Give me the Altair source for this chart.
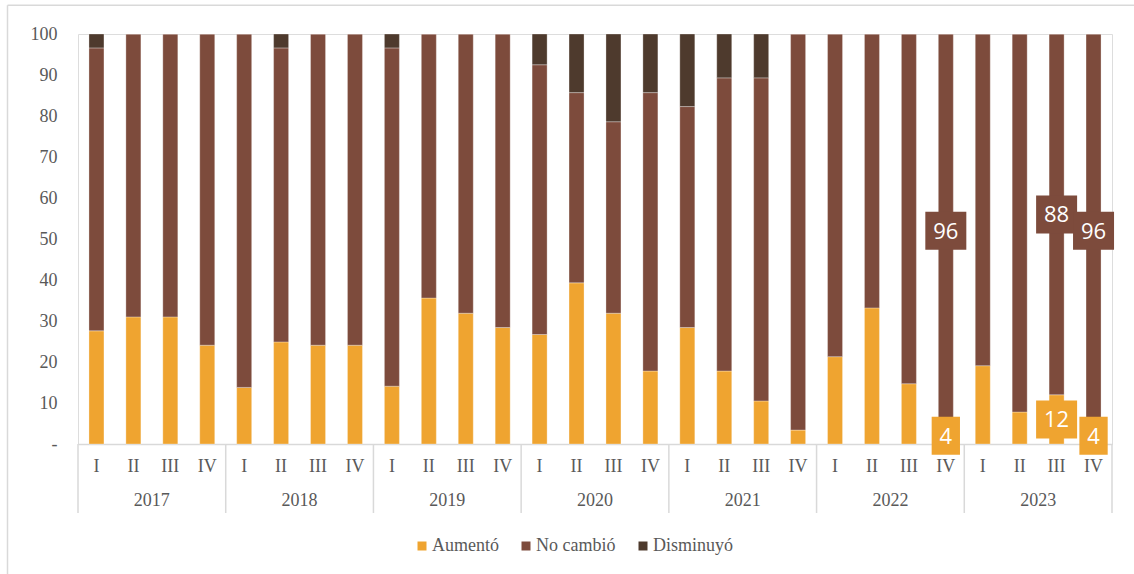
import altair as alt
import pandas as pd

years = [2017, 2018, 2019, 2020, 2021, 2022, 2023]
quarters = ["I", "II", "III", "IV"]
series = ["Aumentó", "No cambió", "Disminuyó"]

aumento = [27.6, 31.0, 31.0, 24.1,
           13.8, 24.9, 24.1, 24.1,
           14.1, 35.6, 31.9, 28.4,
           26.7, 39.3, 31.9, 17.8,
           28.4, 17.8, 10.5, 3.4,
           21.3, 33.2, 14.7, 4.0,
           19.1, 7.8, 12.0, 4.0]
disminuyo = [3.4, 0, 0, 0,
             0, 3.4, 0, 0,
             3.4, 0, 0, 0,
             7.5, 14.3, 21.4, 14.3,
             17.7, 10.7, 10.7, 0,
             0, 0, 0, 0,
             0, 0, 0, 0]
no_cambio = [round(100 - a - d, 1) for a, d in zip(aumento, disminuyo)]

# labelled points: (year-quarter, series, value)
label_keys = ["2022-IV", "2022-IV", "2023-III", "2023-III", "2023-IV", "2023-IV"]
label_series = ["Aumentó", "No cambió", "Aumentó", "No cambió", "Aumentó", "No cambió"]
label_values = [4, 96, 12, 88, 4, 96]

colors = ["#EFA430", "#7D4B3C", "#4E3A2D"]
grey_txt = "#595959"
line_col = "#D9D9D9"
serif = "Liberation Serif"

keys = [f"{y}-{q}" for y in years for q in quarters]

rows = []
for i, k in enumerate(keys):
    for j, (s, v) in enumerate(zip(series, [aumento[i], no_cambio[i], disminuyo[i]])):
        rows.append({"key": k, "serie": s, "valor": v, "orden": j})
df = pd.DataFrame(rows)

lab = pd.DataFrame({"key": label_keys, "serie": label_series, "valor": label_values})
lab["txt"] = lab["valor"].astype(int).astype(str)
base = {k: aumento[keys.index(k)] for k in keys}
lab["pos"] = [v / 2 if s == "Aumentó" else base[k] + v / 2
              for k, s, v in zip(lab["key"], lab["serie"], lab["valor"])]
lab["wide"] = lab["txt"].str.len() > 1

xscale = alt.Scale(domain=keys, paddingInner=0, paddingOuter=0)
yscale = alt.Scale(domain=[0, 100])
cscale = alt.Scale(domain=series, range=colors)

bars = alt.Chart(df).mark_bar(width=15, stroke="#ffffff", strokeWidth=0.6, strokeOpacity=0.5).encode(
    x=alt.X("key:N", scale=xscale, sort=keys, title=None,
            axis=alt.Axis(labelExpr="split(datum.value, '-')[1]", labelAngle=0,
                          ticks=False, labelFont=serif, labelFontSize=18,
                          labelColor=grey_txt, labelBaseline="middle", labelPadding=22,
                          domainColor=line_col, domainWidth=1.5)),
    y=alt.Y("valor:Q", stack="zero", scale=yscale, title=None,
            axis=alt.Axis(values=list(range(0, 101, 10)), grid=False, ticks=False, domain=False,
                          labelExpr="datum.value == 0 ? '-' : datum.label",
                          labelFont=serif, labelFontSize=18, labelColor=grey_txt,
                          labelPadding=21)),
    color=alt.Color("serie:N", scale=cscale, sort=series, title=None,
                    legend=alt.Legend(orient="none", legendX=335, legendY=503,
                                      direction="horizontal", symbolType="square",
                                      symbolSize=81, symbolStrokeWidth=0,
                                      labelFont=serif, labelFontSize=18, labelColor=grey_txt,
                                      labelOffset=1, columnPadding=18, padding=0)),
    order=alt.Order("orden:Q"),
)

first_keys = pd.DataFrame({"key": [f"{y}-I" for y in years]})
sep_left = alt.Chart(first_keys).mark_rule(color=line_col, strokeWidth=1.5).encode(
    x=alt.X("key:N", scale=xscale, bandPosition=0),
    y=alt.value(410), y2=alt.value(479),
)
last_key = pd.DataFrame({"key": [keys[-1]]})
sep_right = alt.Chart(last_key).mark_rule(color=line_col, strokeWidth=1.5).encode(
    x=alt.X("key:N", scale=xscale, bandPosition=1),
    y=alt.value(410), y2=alt.value(479),
)

year_df = pd.DataFrame({"key": [f"{y}-II" for y in years], "year": [str(y) for y in years]})
year_txt = alt.Chart(year_df).mark_text(font=serif, fontSize=18, color=grey_txt, baseline="middle").encode(
    x=alt.X("key:N", scale=xscale, bandPosition=1),
    y=alt.value(467),
    text="year:N",
)

fscale = alt.Scale(domain=series, range=colors)
wide_box = alt.Chart(lab[lab["wide"]]).mark_point(
    shape="M-1,-0.927L1,-0.927L1,0.927L-1,0.927Z", size=1681, filled=True, opacity=1, strokeWidth=0
).encode(
    x=alt.X("key:N", scale=xscale),
    y=alt.Y("pos:Q", scale=yscale),
    fill=alt.Fill("serie:N", scale=fscale, legend=None),
)
narrow_box = alt.Chart(lab[~lab["wide"]]).mark_point(
    shape="M-0.745,-1L0.745,-1L0.745,1L-0.745,1Z", size=1444, filled=True, opacity=1, strokeWidth=0
).encode(
    x=alt.X("key:N", scale=xscale),
    y=alt.Y("pos:Q", scale=yscale),
    fill=alt.Fill("serie:N", scale=fscale, legend=None),
)
lab_txt = alt.Chart(lab).mark_text(font="Open Sans", fontSize=22, color="#ffffff", baseline="middle", dy=1).encode(
    x=alt.X("key:N", scale=xscale),
    y=alt.Y("pos:Q", scale=yscale),
    text="txt:N",
)

frame_top = alt.Chart(last_key).mark_rule(color=line_col, strokeWidth=1.5).encode(
    x=alt.value(-70.5), x2=alt.value(1060), y=alt.value(-28.7))
frame_left = alt.Chart(last_key).mark_rule(color=line_col, strokeWidth=1.5).encode(
    x=alt.value(-70.5), y=alt.value(-28.7), y2=alt.value(545))

chart = alt.layer(bars, sep_left, sep_right, year_txt, wide_box, narrow_box, lab_txt,
                  frame_top, frame_left).properties(
    width=1034, height=410,
    padding={"left": 78, "top": 34, "right": 22, "bottom": 130},
    autosize=alt.AutoSizeParams(type="none"),
).configure_view(stroke=None).configure(background="#ffffff").configure_legend(
    labelFont=serif, labelFontSize=18, labelColor=grey_txt
)

chart.save("out.html", embed_options={"renderer": "svg", "actions": False})
